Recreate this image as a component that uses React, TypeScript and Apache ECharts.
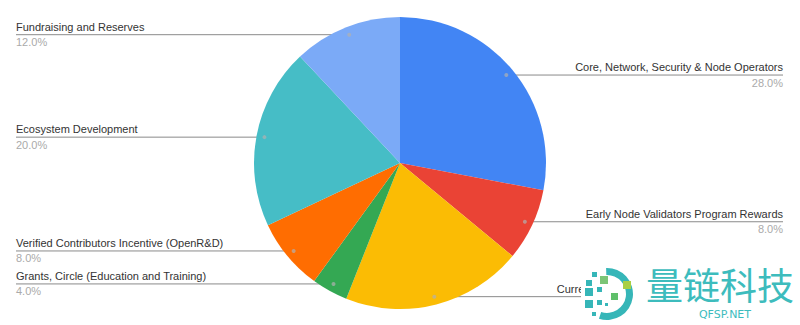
import React, { useEffect, useRef } from "react";
import * as echarts from "echarts";

// Allocation categories, clockwise from 12 o'clock
const categories = [
  "Core, Network, Security & Node Operators",
  "Early Node Validators Program Rewards",
  "Current Circulating Supply & Liquidity Reserve",
  "Grants, Circle (Education and Training)",
  "Verified Contributors Incentive (OpenR&D)",
  "Ecosystem Development",
  "Fundraising and Reserves",
];
const shares = [28, 8, 20, 4, 8, 20, 12];
const sliceColors = ["#4285f4", "#ea4335", "#fbbc04", "#34a853", "#ff6d01", "#46bdc6", "#7baaf7"];

const CX = 400;
const CY = 163;
const R = 146;
const ANCHOR_R = 138;
const LEFT_EDGE = 16;
const RIGHT_EDGE = 783;

export default function App() {
  const ref = useRef<HTMLDivElement>(null);

  useEffect(() => {
    if (!ref.current) return;
    const chart = echarts.init(ref.current, undefined, { renderer: "svg" });
    const total = shares.reduce((a, b) => a + b, 0);

    // angle positions (in value units) of each slice's middle, for the anchor dots
    const mids: number[] = [];
    let acc = 0;
    shares.forEach((v) => {
      mids.push(acc + v / 2);
      acc += v;
    });

    const teal = "#36b6b8";
    const logoSquares: [number, number, number, string][] = [
      [592, 272, 5, teal],
      [586, 280, 6, teal],
      [600, 276, 8, "#7cc576"],
      [585, 288, 8, teal],
      [597, 287, 5, teal],
      [611, 293, 7, "#5fbf6a"],
      [585, 300, 8, teal],
      [597, 300, 5, teal],
      [605, 303, 3, teal],
      [592, 312, 4, teal],
      [623, 281, 8, "#a8cf45"],
    ];

    const top = { zlevel: 1, z: 100 };

    chart.setOption({
      animation: false,
      color: sliceColors,
      polar: { center: [CX, CY], radius: R },
      angleAxis: { type: "value", min: 0, max: total, startAngle: 90, clockwise: true, show: false },
      radiusAxis: { type: "value", min: 0, max: R, show: false },
      series: [
        {
          type: "pie",
          center: [CX, CY],
          radius: R,
          startAngle: 90,
          clockwise: true,
          avoidLabelOverlap: false,
          itemStyle: { borderWidth: 0 },
          emphasis: { disabled: true },
          data: categories.map((name, i) => ({ name, value: shares[i] })),
          label: {
            show: true,
            position: "outside",
            formatter: (p: any) => `{n|${p.name}}\n{p|${p.percent.toFixed(1)}%}`,
            rich: {
              n: { fontSize: 11, color: "#333", lineHeight: 15, fontFamily: "Arial, 'Liberation Sans', sans-serif" },
              p: { fontSize: 11, color: "#aaa", lineHeight: 16, fontFamily: "Arial, 'Liberation Sans', sans-serif" },
            },
          },
          labelLine: { show: true, lineStyle: { color: "#8a8a8a", width: 1 } },
          labelLayout: (params: any) => {
            const pts = params.labelLinePoints;
            let ang: number;
            if (pts && pts[0]) {
              ang = Math.atan2(pts[0][1] - CY, pts[0][0] - CX);
            } else {
              ang = ((mids[params.dataIndex] / total) * 360 - 90) * (Math.PI / 180);
            }
            const ax = CX + ANCHOR_R * Math.cos(ang);
            const ay = CY + ANCHOR_R * Math.sin(ang);
            const isLeft = ax < CX;
            const tx = isLeft ? LEFT_EDGE : RIGHT_EDGE;
            return {
              x: tx,
              y: ay,
              align: isLeft ? "left" : "right",
              verticalAlign: "middle",
              labelLinePoints: [
                [ax, ay],
                [ax, ay],
                [tx, ay],
              ],
            };
          },
        },
        {
          type: "scatter",
          coordinateSystem: "polar",
          symbolSize: 4,
          silent: true,
          itemStyle: { color: "#b0b0b0", opacity: 0.7 },
          data: mids.map((m) => [ANCHOR_R, m]),
          z: 5,
        },
      ],
      graphic: [
        { type: "rect", ...top, shape: { x: 581, y: 262, width: 219, height: 63 }, style: { fill: "#fff" } },
        {
          type: "sector",
          ...top,
          shape: {
            cx: 607,
            cy: 294,
            r0: 19,
            r: 26,
            startAngle: (-92 * Math.PI) / 180,
            endAngle: (108 * Math.PI) / 180,
          },
          style: { fill: teal },
        },
        ...logoSquares.map(([x, y, s, c]) => ({
          type: "rect",
          ...top,
          shape: { x, y, width: s, height: s },
          style: { fill: c },
        })),
        {
          type: "text",
          ...top,
          x: 646,
          y: 284,
          style: {
            text: "量链科技",
            fontSize: 37,
            fontFamily: "'Noto Sans CJK SC', sans-serif",
            fill: "#3dbcbd",
            verticalAlign: "middle",
            align: "left",
          },
        },
        {
          type: "text",
          ...top,
          x: 725,
          y: 314,
          style: {
            text: "QFSP.NET",
            fontSize: 11,
            fontFamily: "'DejaVu Sans', sans-serif",
            fill: "#3dbcbd",
            verticalAlign: "middle",
            align: "center",
          },
        },
      ],
    });

    return () => chart.dispose();
  }, []);

  return (
    <div
      ref={ref}
      style={{ position: "fixed", left: 0, top: 0, width: 800, height: 325, background: "#fff" }}
    />
  );
}
